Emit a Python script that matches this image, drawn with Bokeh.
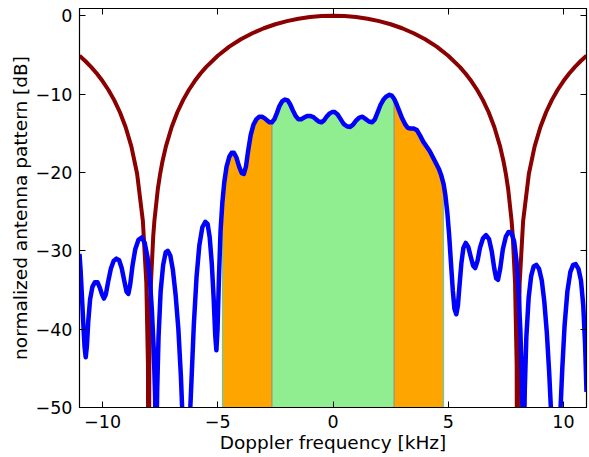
from bokeh.plotting import figure
from bokeh.models import Range1d, LinearAxis, FixedTicker
from bokeh.embed import file_html
from bokeh.resources import INLINE

# ---- data ----
# dark red curve: broad main lobe (dB)
red_x = [-11, -10.75, -10.5, -10.25, -10, -9.75, -9.5, -9.25, -9, -8.75, -8.5, -8.25, -8.1, -8.03, -8.0,
         -7.97, -7.9, -7.8, -7.75, -7.6, -7.5, -7.4, -7.25, -7, -6.75, -6.5, -6.25, -6, -5.75, -5.5, -5,
         -4.5, -4, -3.5, -3, -2.5, -2, -1.5, -1, -0.5, 0,
         0.5, 1, 1.5, 2, 2.5, 3, 3.5, 4, 4.5, 5, 5.5, 5.75, 6, 6.25, 6.5, 6.75, 7, 7.25, 7.4, 7.5, 7.6,
         7.75, 7.8, 7.9, 7.97, 8.0, 8.03, 8.1, 8.25, 8.5, 8.75, 9, 9.25, 9.5, 9.75, 10, 10.25, 10.5, 10.75, 11]
red_y = [-5.11, -5.78, -6.53, -7.38, -8.34, -9.45, -10.74, -12.29, -14.2, -16.67, -20.17, -26.2, -34.1, -44.6, -80,
         -44.6, -34.14, -28.1, -26.18, -22.1, -20.17, -18.6, -16.67, -14.2, -12.29, -10.74, -9.45, -8.34, -7.38, -6.53, -5.11,
         -3.95, -3.01, -2.24, -1.6, -1.09, -0.69, -0.38, -0.17, -0.04, 0.0,
         -0.04, -0.17, -0.38, -0.69, -1.09, -1.6, -2.24, -3.01, -3.95, -5.11, -6.53, -7.38, -8.34, -9.45, -10.74, -12.29, -14.2, -16.67, -18.6, -20.17, -22.1,
         -26.18, -28.1, -34.14, -44.6, -80, -44.6, -34.1, -26.2, -20.17, -16.67, -14.2, -12.29, -10.74, -9.45, -8.34, -7.38, -6.53, -5.78, -5.11]

# blue curve: measured Doppler spectrum (dB)
blue_x = [-11.0, -10.95, -10.9, -10.84, -10.78, -10.73, -10.68, -10.62, -10.54, -10.44, -10.33, -10.22, -10.12, -10.02,
          -9.94, -9.86, -9.76, -9.64, -9.52, -9.4, -9.28, -9.17, -9.06, -8.96, -8.88, -8.8, -8.7, -8.58, -8.44, -8.3,
          -8.17, -8.05, -7.95, -7.86, -7.78, -7.72, -7.68, -7.63, -7.57, -7.48, -7.37, -7.26, -7.17, -7.06, -6.95,
          -6.83, -6.71, -6.6, -6.52, -6.37, -6.22, -6.14, -6.04, -5.92, -5.8, -5.67, -5.54, -5.44, -5.35, -5.26,
          -5.18, -5.11, -5.06, -5.01, -4.95, -4.88, -4.8, -4.72, -4.62, -4.5, -4.4, -4.3, -4.19, -4.07, -3.96, -3.87,
          -3.78, -3.68, -3.57, -3.45, -3.32, -3.2, -3.08, -2.96, -2.85, -2.75, -2.65, -2.54, -2.43, -2.32, -2.2,
          -2.08, -1.97, -1.86, -1.74, -1.62, -1.5, -1.38, -1.25, -1.12, -0.99, -0.87, -0.75, -0.62, -0.5, -0.4,
          -0.28, -0.16, -0.04, 0.08, 0.2, 0.33, 0.46, 0.6, 0.74, 0.87, 1.0, 1.14, 1.28, 1.42, 1.56, 1.7, 1.82,
          1.94, 2.06, 2.19, 2.32, 2.45, 2.55, 2.65, 2.76, 2.88, 3.0, 3.12, 3.24, 3.36, 3.5, 3.64, 3.78, 3.92,
          4.06, 4.2, 4.34, 4.48, 4.6, 4.7, 4.8, 4.88, 4.96, 5.04, 5.12, 5.2, 5.27, 5.35, 5.42, 5.49, 5.57, 5.66,
          5.76, 5.87, 5.98, 6.08, 6.17, 6.27, 6.38, 6.51, 6.64, 6.77, 6.89, 7.0, 7.08, 7.16, 7.26, 7.37, 7.5,
          7.62, 7.74, 7.86, 7.96, 8.05, 8.13, 8.2, 8.26, 8.32, 8.39, 8.49, 8.6, 8.71, 8.82, 8.94, 9.06, 9.17,
          9.28, 9.38, 9.47, 9.67, 9.86, 9.95, 10.05, 10.17, 10.3, 10.42, 10.53, 10.65, 10.76, 10.86, 10.94, 11.0]
blue_y = [-30.4, -32.6, -35.5, -39.0, -42.3, -43.6, -42.2, -39.0, -36.2, -34.6, -34.0, -34.0, -34.7, -35.6,
          -36.1, -35.6, -34.0, -32.3, -31.3, -31.0, -31.2, -32.2, -33.8, -35.2, -35.5, -34.3, -31.9, -29.8, -28.6, -28.3,
          -29.0, -30.8, -33.5, -37.5, -42.5, -48.5, -58.0, -48.0, -41.0, -35.2, -31.8, -30.2, -30.0, -30.6, -32.4,
          -35.6, -40.0, -46.0, -52.0, -60.0, -52.0, -46.5, -39.5, -33.3, -29.3, -27.0, -26.3, -26.6, -28.3, -31.6,
          -36.0, -40.8, -42.7, -40.0, -33.5, -27.5, -23.8, -21.3, -19.3, -18.0, -17.5, -17.5, -18.1, -19.3, -20.1, -20.2,
          -19.3, -17.2, -15.2, -13.9, -13.2, -12.9, -12.9, -13.1, -13.4, -13.6, -13.6, -13.2, -12.4, -11.5, -10.9,
          -10.7, -10.8, -11.3, -12.1, -12.8, -13.2, -13.2, -13.0, -12.8, -12.8, -12.9, -13.2, -13.5, -13.6, -13.4,
          -12.9, -12.5, -12.3, -12.3, -12.6, -13.2, -13.8, -14.1, -14.2, -13.9, -13.4, -13.0, -12.9, -13.2, -13.5, -13.6, -13.2,
          -12.3, -11.4, -10.7, -10.3, -10.1, -10.2, -10.6, -11.3, -12.2, -13.1, -13.8, -14.3, -14.4, -14.4, -14.6, -15.3, -16.1,
          -16.7, -17.3, -18.1, -18.9, -19.6, -20.4, -21.5, -23.0, -25.1, -28.0, -31.6, -35.1, -37.4, -38.1, -37.0, -34.4, -31.6, -29.6,
          -29.0, -29.5, -30.8, -31.9, -32.2, -31.3, -29.6, -28.4, -28.0, -28.5, -30.1, -32.3, -33.5, -33.7, -32.2, -29.8, -28.2,
          -27.6, -27.7, -28.8, -31.2, -35.0, -40.2, -46.5, -60.0, -48.0, -41.0, -36.0, -33.2, -32.0, -31.8, -32.3, -33.8, -36.5,
          -40.5, -45.5, -51.0, -62.0, -51.0, -45.0, -39.5, -35.2, -32.7, -31.8, -31.7, -32.3, -33.8, -37.0, -42.0, -48.0]

# shaded Doppler bands (edges in kHz) and their colours
band_edges = [-4.8, -2.65, 2.65, 4.8]
band_colors = ["#FFA500", "#90EE90", "#FFA500"]
edge_colors = ["#40D0D0", "#8a8a8a", "#8a8a8a", "#40D0D0"]

x_ticks = [-10, -5, 0, 5, 10]
x_tick_labels = ["\u221210", "\u22125", "0", "5", "10"]
y_ticks = [-50, -40, -30, -20, -10, 0]
y_tick_labels = ["\u221250", "\u221240", "\u221230", "\u221220", "\u221210", "0"]

x_lim = (-11, 11)
y_lim = (-50, 0.92)

FONT = "DejaVu Sans"

p = figure(width=589, height=457, x_range=Range1d(*x_lim), y_range=Range1d(*y_lim),
           output_backend="svg", toolbar_location=None,
           min_border_left=79, min_border_right=3, min_border_top=8, min_border_bottom=50)
p.grid.visible = False
p.outline_line_color = "black"
p.outline_line_width = 1.2
p.background_fill_color = "white"
p.border_fill_color = "white"

# filled bands under the blue curve
for i in range(3):
    lo, hi = band_edges[i], band_edges[i + 1]
    xs = [x for x in blue_x if lo <= x <= hi]
    ys = [y for x, y in zip(blue_x, blue_y) if lo <= x <= hi]
    p.varea(x=xs, y1=y_lim[0], y2=ys, fill_color=band_colors[i], fill_alpha=1.0)

edge_tops = [blue_y[blue_x.index(e)] for e in band_edges]
p.segment(x0=band_edges, y0=[y_lim[0]] * 4, x1=band_edges, y1=edge_tops,
          line_color=edge_colors, line_width=1)

p.line(red_x, red_y, line_color="#8B0000", line_width=4, line_join="round")
p.line(blue_x, blue_y, line_color="#0000FF", line_width=4.5, line_join="round")

x_over = {t: s for t, s in zip(x_ticks, x_tick_labels)}
y_over = {t: s for t, s in zip(y_ticks, y_tick_labels)}

def style(ax, ticks, over, show):
    ax.ticker = FixedTicker(ticks=ticks)
    ax.major_tick_in = 6
    ax.major_tick_out = 0
    ax.minor_tick_in = 0
    ax.minor_tick_out = 0
    ax.axis_line_color = "black"
    ax.major_tick_line_color = "black"
    if show:
        ax.major_label_overrides = over
        ax.major_label_text_font = FONT
        ax.major_label_text_font_size = "17.5px"
        ax.major_label_text_color = "black"
        ax.axis_label_text_font = FONT
        ax.axis_label_text_font_size = "18.5px"
        ax.axis_label_text_font_style = "normal"
        ax.axis_label_text_color = "black"
    else:
        ax.major_label_overrides = {t: "" for t in ticks}
        ax.major_label_text_font_size = "1px"
        ax.major_label_standoff = 0

style(p.xaxis[0], x_ticks, x_over, True)
style(p.yaxis[0], y_ticks, y_over, True)
p.xaxis[0].major_label_standoff = 7
p.xaxis[0].axis_label_standoff = 1
p.yaxis[0].major_label_standoff = 7
p.yaxis[0].axis_label_standoff = 2
p.xaxis[0].axis_label = "Doppler frequency [kHz]"
p.yaxis[0].axis_label = "normalized antenna pattern [dB]"

top = LinearAxis()
right = LinearAxis()
style(top, x_ticks, x_over, False)
style(right, y_ticks, y_over, False)
p.add_layout(top, "above")
p.add_layout(right, "right")

open("out.html", "w").write(file_html(p, INLINE))
